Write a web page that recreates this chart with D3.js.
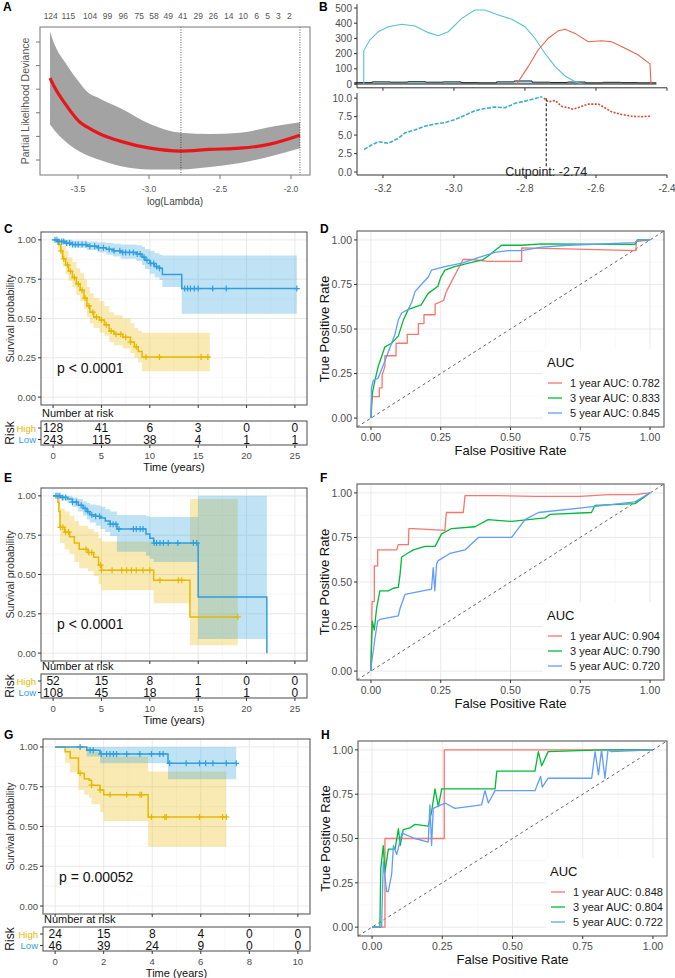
<!DOCTYPE html>
<html>
<head>
<meta charset="utf-8">
<script src="https://cdn.jsdelivr.net/npm/d3@7"></script>
<style>
  body { margin: 0; background: #fff; }
  svg { font-family: "Liberation Sans", Arial, sans-serif; }
</style>
</head>
<body>
<svg id="fig" width="675" height="978"></svg>
<script>
// ---------- panel A: cross-validation curve ----------
const cvLogLambda = [-3.697, -3.662, -3.592, -3.486, -3.437, -3.345, -3.204, -2.993, -2.775, -2.570, -2.359, -2.148, -1.937];
const cvMean  = [12.095, 12.01, 11.88, 11.72, 11.68, 11.62, 11.56, 11.50, 11.476, 11.49, 11.50, 11.535, 11.61];
const cvUpper = [12.49, 12.37, 12.23, 12.05, 11.98, 11.92, 11.84, 11.705, 11.63, 11.62, 11.63, 11.68, 11.72];
const cvLower = [11.70, 11.645, 11.56, 11.47, 11.44, 11.40, 11.35, 11.32, 11.32, 11.34, 11.375, 11.43, 11.50];
const lambdaTicks = [-3.5, -3.0, -2.5, -2.0];
const devianceTicks = [11.4, 11.6, 11.8, 12.0, 12.2, 12.4];
const dfLambda = [-3.692, -3.568, -3.415, -3.293, -3.181, -3.068, -2.965, -2.864, -2.763, -2.653, -2.547, -2.439, -2.336, -2.242, -2.164, -2.089, -2.012];
const dfCounts = [124, 115, 104, 99, 96, 75, 58, 49, 41, 29, 26, 14, 10, 6, 5, 3, 2];
const lambdaSelected = [-2.775, -1.937];

// ---------- panel B: cutpoint ----------
const densLowX = [-3.254, -3.254, -3.237, -3.213, -3.185, -3.147, -3.110, -3.072, -3.044, -3.016, -2.978, -2.941, -2.913, -2.875, -2.837, -2.800, -2.772, -2.744, -2.715, -2.687, -2.659, -2.640];
const densLowY = [0, 220, 289, 344, 377, 393, 382, 338, 318, 344, 432, 487, 487, 454, 426, 377, 301, 202, 114, 53, 15, 0];
const densHighX = [-2.823, -2.791, -2.763, -2.734, -2.706, -2.687, -2.659, -2.622, -2.584, -2.556, -2.518, -2.481, -2.448, -2.445];
const densHighY = [0, 114, 224, 301, 351, 360, 333, 278, 285, 278, 235, 191, 132, 0];
const histBreaks = [-3.28, -3.23, -3.18, -3.13, -3.08, -3.03, -2.98, -2.93, -2.88, -2.83, -2.78, -2.73, -2.68, -2.63, -2.58, -2.53, -2.48, -2.43];
const histCounts = [9, 14, 12, 15, 12, 14, 9, 8, 14, 20, 12, 10, 13, 8, 11, 9, 8];
const statLowX = [-3.253, -3.232, -3.213, -3.185, -3.157, -3.138, -3.110, -3.082, -3.054, -3.025, -2.997, -2.969, -2.941, -2.913, -2.885, -2.856, -2.828, -2.800, -2.772, -2.751];
const statLowY = [3.07, 3.65, 4.1, 3.9, 4.55, 5.3, 5.7, 6.2, 6.5, 6.7, 7.1, 7.7, 8.3, 8.6, 8.8, 8.7, 9.3, 9.6, 9.95, 10.2];
const statHighX = [-2.747, -2.734, -2.715, -2.697, -2.678, -2.664, -2.640, -2.622, -2.593, -2.575, -2.556, -2.528, -2.499, -2.471, -2.448];
const statHighY = [10.0, 9.5, 9.7, 8.9, 8.7, 8.5, 8.9, 9.2, 9.2, 8.7, 8.15, 7.8, 7.55, 7.5, 7.55];
const cutpoint = -2.74;
const bXTicks = [-3.2, -3.0, -2.8, -2.6, -2.4];
const bDensTicks = [0, 100, 200, 300, 400, 500];
const bStatTicks = [0, 2.5, 5.0, 7.5, 10.0];

// ---------- Kaplan-Meier curves: [time, surv, upper, lower] ----------
const kmC_high = [[0,1,1,1],[0.5,0.97,1,0.94],[0.8,0.93,0.99,0.89],[1.0,0.88,0.96,0.83],[1.3,0.84,0.93,0.78],[1.6,0.80,0.89,0.74],[2.0,0.76,0.86,0.70],[2.4,0.72,0.82,0.65],[2.8,0.68,0.79,0.61],[3.2,0.63,0.75,0.56],[3.5,0.58,0.70,0.51],[3.8,0.54,0.66,0.47],[4.2,0.51,0.63,0.44],[4.8,0.49,0.61,0.41],[5.3,0.46,0.58,0.39],[5.8,0.42,0.54,0.35],[6.3,0.40,0.52,0.33],[7.2,0.38,0.50,0.31],[8.0,0.35,0.47,0.28],[8.4,0.32,0.44,0.25],[8.8,0.29,0.42,0.22],[9.2,0.255,0.41,0.165],[16.2,0.255,0.41,0.165]];
const kmC_low = [[0,1,1,1],[0.5,0.99,1,0.98],[1.2,0.98,1,0.965],[2.0,0.97,0.995,0.95],[3.5,0.96,0.99,0.935],[4.6,0.95,0.985,0.92],[5.5,0.94,0.98,0.905],[6.2,0.93,0.975,0.895],[7.0,0.92,0.97,0.88],[8.6,0.91,0.965,0.865],[9.2,0.89,0.955,0.84],[9.5,0.87,0.94,0.815],[10.0,0.85,0.93,0.785],[10.5,0.83,0.915,0.76],[11.0,0.82,0.905,0.745],[11.3,0.78,0.90,0.70],[13.3,0.69,0.90,0.53],[25.2,0.69,0.90,0.53]];
const censC_high = [0.8,1.1,1.5,1.8,2.2,2.6,3.0,3.3,3.7,4.1,4.5,5.0,5.5,6.0,6.5,7.0,7.5,8.0,8.6,9.6,11.0,15.3,16.0];
const censC_low = [0.2,0.4,0.6,0.9,1.1,1.4,1.7,2.0,2.3,2.6,3.0,3.4,3.8,4.3,4.7,5.2,5.8,6.3,6.9,7.2,7.5,7.9,8.3,8.7,9.0,9.4,9.7,10.1,10.4,10.7,11.0,13.6,13.9,14.2,14.6,15.0,16.5,17.9,25.2];

const kmE_high = [[0,1,1,1],[0.5,0.96,1,0.91],[0.6,0.90,0.98,0.83],[0.72,0.80,0.92,0.70],[1.2,0.77,0.90,0.66],[1.7,0.74,0.87,0.63],[2.2,0.70,0.84,0.58],[2.7,0.66,0.81,0.54],[3.6,0.64,0.79,0.52],[4.2,0.61,0.77,0.49],[4.7,0.56,0.73,0.44],[5.0,0.527,0.71,0.40],[10.4,0.464,0.70,0.317],[14.15,0.23,0.98,0.05],[19.1,0.23,0.98,0.05]];
const kmE_low = [[0,1,1,1],[0.8,0.99,1,0.97],[1.5,0.98,1,0.955],[2.0,0.96,0.99,0.93],[2.6,0.94,0.98,0.90],[3.1,0.92,0.965,0.875],[3.5,0.90,0.955,0.85],[3.8,0.88,0.945,0.83],[4.4,0.87,0.94,0.81],[4.9,0.86,0.93,0.79],[5.4,0.84,0.915,0.77],[5.9,0.82,0.90,0.745],[6.6,0.79,0.876,0.645],[9.6,0.757,0.87,0.62],[10.0,0.73,0.866,0.60],[10.4,0.70,0.866,0.58],[15.0,0.357,1.0,0.09],[22.1,0,1.0,0.09]];
const censE_high = [0.75,1.0,1.3,1.6,3.4,3.7,4.0,4.9,5.0,6.1,7.1,7.6,8.1,8.6,9.3,10.0,11.05,12.95,13.3,19.1];
const censE_low = [0.3,0.5,0.7,1.0,1.3,2.0,2.4,2.9,3.3,3.6,4.0,4.4,4.8,5.9,6.2,6.5,6.8,8.3,8.6,9.0,9.3,10.45,10.7,11.05,11.4,11.9,12.9,14.5,14.85];

const kmG_high = [[0,1,1,1],[0.41,0.97,1,0.90],[0.62,0.93,1,0.84],[0.96,0.834,1.0,0.73],[1.2,0.80,1.0,0.70],[1.4,0.79,0.98,0.68],[1.5,0.76,0.97,0.64],[1.85,0.73,0.95,0.59],[2.0,0.70,0.94,0.535],[3.83,0.56,0.845,0.373],[7.05,0.56,0.845,0.373]];
const kmG_low = [[0,1,1,1],[1.3,0.98,1,0.94],[1.85,0.956,1,0.897],[4.65,0.897,1,0.797],[7.46,0.897,1,0.797]];
const censG_high = [1.03,1.5,1.85,2.26,2.95,3.49,3.56,3.97,4.52,4.58,5.95,6.9,7.05];
const censG_low = [1.03,1.44,1.57,1.9,2.12,2.26,2.4,2.53,2.95,3.49,3.97,4.31,4.45,4.72,5.4,5.95,6.2,6.5,7.05,7.46];

const riskTimesCE = [0, 5, 10, 15, 20, 25];
const riskTimesG = [0, 2, 4, 6, 8, 10];
const riskC_high = [128, 41, 6, 3, 0, 0];
const riskC_low = [243, 115, 38, 4, 1, 1];
const riskE_high = [52, 15, 8, 1, 0, 0];
const riskE_low = [108, 45, 18, 1, 1, 0];
const riskG_high = [24, 15, 8, 4, 0, 0];
const riskG_low = [46, 39, 24, 9, 0, 0];
const survTicks = [0, 0.25, 0.5, 0.75, 1.0];

// ---------- ROC curves: [fpr, tpr] ----------
const rocD_1y = [[0,0],[0.005,0.12],[0.03,0.12],[0.03,0.17],[0.04,0.17],[0.04,0.24],[0.05,0.29],[0.05,0.35],[0.09,0.35],[0.09,0.42],[0.13,0.42],[0.13,0.47],[0.17,0.47],[0.17,0.53],[0.19,0.53],[0.19,0.58],[0.23,0.58],[0.23,0.64],[0.26,0.66],[0.27,0.71],[0.29,0.77],[0.31,0.83],[0.33,0.89],[0.36,0.89],[0.42,0.88],[0.54,0.88],[0.54,0.955],[0.70,0.95],[0.95,0.94],[0.95,0.99],[1,1]];
const rocD_3y = [[0,0],[0.002,0.08],[0.005,0.14],[0.014,0.21],[0.026,0.29],[0.05,0.40],[0.074,0.42],[0.098,0.46],[0.116,0.55],[0.134,0.61],[0.18,0.635],[0.205,0.70],[0.24,0.74],[0.25,0.79],[0.265,0.83],[0.30,0.85],[0.35,0.87],[0.40,0.888],[0.42,0.91],[0.444,0.94],[0.468,0.97],[0.54,0.97],[0.612,0.978],[0.946,0.975],[0.955,1.0],[1,1]];
const rocD_5y = [[0,0],[0.002,0.17],[0.008,0.21],[0.026,0.225],[0.05,0.32],[0.074,0.42],[0.086,0.47],[0.098,0.55],[0.11,0.59],[0.134,0.61],[0.146,0.65],[0.158,0.71],[0.18,0.75],[0.205,0.79],[0.217,0.83],[0.265,0.85],[0.325,0.87],[0.396,0.906],[0.444,0.93],[0.492,0.94],[0.54,0.94],[0.612,0.96],[0.707,0.97],[0.946,0.985],[0.958,1.0],[1,1]];
const rocF_1y = [[0,0],[0.001,0.095],[0.004,0.39],[0.012,0.39],[0.012,0.59],[0.024,0.59],[0.024,0.68],[0.092,0.68],[0.098,0.71],[0.134,0.71],[0.136,0.80],[0.15,0.80],[0.265,0.79],[0.27,0.89],[0.331,0.89],[0.337,0.985],[0.45,0.985],[0.588,0.98],[0.75,0.98],[0.85,0.99],[0.946,0.99],[1,1]];
const rocF_3y = [[0,0],[0.0,0.04],[0.005,0.28],[0.012,0.23],[0.02,0.35],[0.032,0.45],[0.062,0.45],[0.08,0.465],[0.098,0.47],[0.104,0.54],[0.11,0.64],[0.13,0.66],[0.152,0.68],[0.194,0.70],[0.23,0.70],[0.253,0.77],[0.289,0.80],[0.373,0.81],[0.42,0.85],[0.504,0.84],[0.624,0.86],[0.642,0.88],[0.79,0.89],[0.803,0.93],[0.946,0.94],[1,1]];
const rocF_5y = [[0,0],[0.0,0.02],[0.008,0.11],[0.014,0.18],[0.024,0.28],[0.032,0.29],[0.098,0.31],[0.104,0.35],[0.122,0.43],[0.217,0.46],[0.223,0.58],[0.229,0.45],[0.235,0.60],[0.241,0.62],[0.283,0.66],[0.337,0.68],[0.385,0.75],[0.504,0.75],[0.552,0.85],[0.60,0.89],[0.78,0.92],[0.946,0.95],[1,1]];
const rocH_1y = [[0,0],[0.046,0],[0.046,0.50],[0.257,0.50],[0.257,1.0],[1,1]];
const rocH_3y = [[0,0],[0.028,0],[0.031,0.33],[0.04,0.46],[0.046,0.31],[0.058,0.44],[0.082,0.44],[0.094,0.556],[0.10,0.46],[0.111,0.55],[0.135,0.56],[0.153,0.58],[0.20,0.57],[0.212,0.65],[0.224,0.78],[0.236,0.68],[0.248,0.78],[0.438,0.78],[0.444,0.88],[0.58,0.88],[0.592,0.99],[0.604,0.91],[0.627,0.99],[0.818,1.0],[1,1]];
const rocH_5y = [[0,0],[0.034,0],[0.04,0.37],[0.052,0.20],[0.058,0.20],[0.07,0.30],[0.076,0.46],[0.088,0.41],[0.106,0.53],[0.153,0.50],[0.20,0.48],[0.206,0.69],[0.212,0.46],[0.218,0.67],[0.26,0.70],[0.295,0.67],[0.39,0.69],[0.402,0.77],[0.414,0.70],[0.438,0.77],[0.58,0.77],[0.60,0.85],[0.606,0.79],[0.627,0.84],[0.782,0.84],[0.794,0.99],[0.806,0.86],[0.817,1.0],[0.829,0.84],[0.84,1.0],[0.853,0.99],[1,1]];
const aucD = ["1 year AUC: 0.782", "3 year AUC: 0.833", "5 year AUC: 0.845"];
const aucF = ["1 year AUC: 0.904", "3 year AUC: 0.790", "5 year AUC: 0.720"];
const aucH = ["1 year AUC: 0.848", "3 year AUC: 0.804", "5 year AUC: 0.722"];
const rateTicks = [0, 0.25, 0.5, 0.75, 1.0];

const svg = d3.select("#fig");
const GRAY = "#4D4D4D";
const KM_HIGH = "#E7B800", KM_LOW = "#2E9FDF";
const ROC_COLORS = ["#F8766D", "#00BA38", "#619CFF"];

function label(g, x, y, s, size, extra) {
  const t = g.append("text").attr("x", x).attr("y", y).attr("font-size", size).text(s);
  if (extra) for (const k in extra) t.attr(k, extra[k]);
  return t;
}

function midpoints(vals) {
  const out = [];
  for (let i = 0; i < vals.length - 1; i++) out.push((vals[i] + vals[i + 1]) / 2);
  return out;
}

function grid(g, x, y, xt, yt, box) {
  const xm = midpoints(xt), ym = y ? midpoints(yt) : [];
  xm.forEach(v => g.append("line").attr("x1", x(v)).attr("x2", x(v)).attr("y1", box.t).attr("y2", box.b).attr("stroke", "#F3F3F3").attr("stroke-width", 0.6));
  ym.forEach(v => g.append("line").attr("y1", y(v)).attr("y2", y(v)).attr("x1", box.l).attr("x2", box.r).attr("stroke", "#F3F3F3").attr("stroke-width", 0.6));
  xt.forEach(v => g.append("line").attr("x1", x(v)).attr("x2", x(v)).attr("y1", box.t).attr("y2", box.b).attr("stroke", "#E6E6E6").attr("stroke-width", 0.9));
  if (y) yt.forEach(v => g.append("line").attr("y1", y(v)).attr("y2", y(v)).attr("x1", box.l).attr("x2", box.r).attr("stroke", "#E6E6E6").attr("stroke-width", 0.9));
}

// panel letters
[["A", 3, 11], ["B", 319, 11], ["C", 4, 233], ["D", 320, 233], ["E", 4, 482], ["F", 320, 482], ["G", 4, 739], ["H", 321, 739]]
  .forEach(([s, x, y]) => label(svg, x, y, s, 12, { "font-weight": "bold" }));

// ---------- panel A ----------
(function () {
  const g = svg.append("g");
  const box = { l: 40, r: 310, t: 27, b: 175 };
  const x = d3.scaleLinear().domain([-3.5, -2.0]).range([78, 291]);
  const y = d3.scaleLinear().domain([11.4, 12.4]).range([160, 42]);
  const pts = cvLogLambda.map((l, i) => ({ l, m: cvMean[i], u: cvUpper[i], lo: cvLower[i] }));
  g.append("path").datum(pts)
    .attr("d", d3.area().curve(d3.curveMonotoneX).x(d => x(d.l)).y0(d => y(d.lo)).y1(d => y(d.u)))
    .attr("fill", "#A3A3A3");
  g.append("path").datum(pts)
    .attr("d", d3.line().curve(d3.curveMonotoneX).x(d => x(d.l)).y(d => y(d.m)))
    .attr("fill", "none").attr("stroke", "#E8161B").attr("stroke-width", 3.2);
  lambdaSelected.forEach(l => g.append("line").attr("x1", x(l)).attr("x2", x(l)).attr("y1", box.t).attr("y2", box.b)
    .attr("stroke", "#333").attr("stroke-width", 0.8).attr("stroke-dasharray", "1,1.5"));
  g.append("rect").attr("x", box.l).attr("y", box.t).attr("width", box.r - box.l).attr("height", box.b - box.t)
    .attr("fill", "none").attr("stroke", "#777").attr("stroke-width", 1);
  lambdaTicks.forEach(v => {
    g.append("line").attr("x1", x(v)).attr("x2", x(v)).attr("y1", box.b).attr("y2", box.b + 4).attr("stroke", "#777");
    label(g, x(v), 192, v.toFixed(1), 8.5, { "text-anchor": "middle", fill: "#555", "font-family": "Liberation Sans Narrow, Liberation Sans, Arial" });
  });
  devianceTicks.forEach(v => g.append("line").attr("x1", box.l - 4).attr("x2", box.l).attr("y1", y(v)).attr("y2", y(v)).attr("stroke", "#777"));
  dfLambda.forEach((l, i) => label(g, x(l), 19, dfCounts[i], 8.5, { "text-anchor": "middle", fill: "#555", "font-family": "Liberation Sans Narrow, Liberation Sans, Arial" }));
  label(g, 25, (box.t + box.b) / 2, "Partial Likelihood Deviance", 10.5,
    { "text-anchor": "middle", fill: "#555", transform: `rotate(-90,25,${(box.t + box.b) / 2})`, dy: "0.35em" });
  label(g, 175, 205, "log(Lambda)", 10, { "text-anchor": "middle", fill: "#444" });
})();

// ---------- panel B ----------
(function () {
  const g = svg.append("g");
  const x = d3.scaleLinear().domain([-3.273, -2.40]).range([357, 667]);
  const yT = d3.scaleLinear().domain([-25, 525]).range([87.8, 4.2]);
  const yB = d3.scaleLinear().domain([-0.4, 10.7]).range([175, 93]);
  const blue = "#55C1D6", red = "#E8644E";

  // histogram
  histCounts.forEach((c, i) => {
    const x0 = histBreaks[i], x1 = histBreaks[i + 1];
    g.append("rect").attr("x", x(x0)).attr("y", yT(c)).attr("width", x(x1) - x(x0)).attr("height", yT(0) - yT(c))
      .attr("fill", x1 <= cutpoint + 0.02 ? "#A9DCE8" : "#BFD9E0");
  });
  const histPts = histCounts.map((c, i) => [histBreaks[i], c]).concat([[histBreaks[histBreaks.length - 1], histCounts[histCounts.length - 1]]]);
  g.append("path").datum(histPts).attr("d", d3.line().curve(d3.curveStepAfter).x(d => x(d[0])).y(d => yT(d[1])))
    .attr("fill", "none").attr("stroke", "#222").attr("stroke-width", 1);
  g.append("line").attr("x1", x(histBreaks[0])).attr("x2", x(histBreaks[histBreaks.length - 1])).attr("y1", yT(0)).attr("y2", yT(0)).attr("stroke", "#222");

  g.append("path").datum(densLowX.map((v, i) => [v, densLowY[i]])).attr("d", d3.line().x(d => x(d[0])).y(d => yT(d[1])))
    .attr("fill", "none").attr("stroke", blue).attr("stroke-width", 1.1);
  g.append("path").datum(densHighX.map((v, i) => [v, densHighY[i]])).attr("d", d3.line().x(d => x(d[0])).y(d => yT(d[1])))
    .attr("fill", "none").attr("stroke", red).attr("stroke-width", 1.1);

  // axes top
  g.append("line").attr("x1", 357).attr("x2", 357).attr("y1", 4.2).attr("y2", 87.8).attr("stroke", "#333");
  g.append("line").attr("x1", 357).attr("x2", 667).attr("y1", 87.8).attr("y2", 87.8).attr("stroke", "#333");
  bDensTicks.forEach(v => {
    g.append("line").attr("x1", 354).attr("x2", 357).attr("y1", yT(v)).attr("y2", yT(v)).attr("stroke", "#333");
    label(g, 352, yT(v) + 3.5, v, 10, { "text-anchor": "end", fill: GRAY });
  });
  bXTicks.forEach(v => g.append("line").attr("x1", x(v)).attr("x2", x(v)).attr("y1", 87.8).attr("y2", 90.8).attr("stroke", "#333"));

  // bottom: standardized statistic
  g.append("path").datum(statLowX.map((v, i) => [v, statLowY[i]])).attr("d", d3.line().x(d => x(d[0])).y(d => yB(d[1])))
    .attr("fill", "none").attr("stroke", "#3AAFC9").attr("stroke-width", 1.6).attr("stroke-dasharray", "4,1.5");
  g.append("path").datum(statHighX.map((v, i) => [v, statHighY[i]])).attr("d", d3.line().x(d => x(d[0])).y(d => yB(d[1])))
    .attr("fill", "none").attr("stroke", "#DA4B30").attr("stroke-width", 1.6).attr("stroke-dasharray", "2,1.5");
  g.append("line").attr("x1", x(cutpoint)).attr("x2", x(cutpoint)).attr("y1", yB(10)).attr("y2", yB(0.8))
    .attr("stroke", "#222").attr("stroke-width", 1.1).attr("stroke-dasharray", "3,2");
  label(g, x(cutpoint), 176, "Cutpoint: " + cutpoint.toFixed(2), 12.5, { "text-anchor": "middle", fill: "#222" });

  g.append("line").attr("x1", 357).attr("x2", 357).attr("y1", 93).attr("y2", 175).attr("stroke", "#333");
  g.append("line").attr("x1", 357).attr("x2", 667).attr("y1", 175).attr("y2", 175).attr("stroke", "#333");
  bStatTicks.forEach(v => {
    g.append("line").attr("x1", 354).attr("x2", 357).attr("y1", yB(v)).attr("y2", yB(v)).attr("stroke", "#333");
    label(g, 352, yB(v) + 3.5, v.toFixed(1), 10, { "text-anchor": "end", fill: GRAY });
  });
  bXTicks.forEach(v => {
    g.append("line").attr("x1", x(v)).attr("x2", x(v)).attr("y1", 175).attr("y2", 178).attr("stroke", "#333");
    label(g, x(v), 191.5, v.toFixed(1), 10, { "text-anchor": "middle", fill: GRAY });
  });
})();

// ---------- KM panels ----------
function survAt(steps, t) {
  let s = steps[0][1];
  steps.forEach(st => { if (st[0] <= t) s = st[1]; });
  return s;
}

function kmPanel(p) {
  const g = svg.append("g");
  const box = p.box;
  const x = d3.scaleLinear().domain(p.xDomain).range([box.l, box.r]);
  const y = d3.scaleLinear().domain([-0.05, 1.05]).range([box.b, box.t]);
  grid(g, x, y, p.xTicks, survTicks, box);

  const groups = [{ steps: p.high, cens: p.censHigh, col: KM_HIGH }, { steps: p.low, cens: p.censLow, col: KM_LOW }];
  groups.forEach(gr => {
    g.append("path").datum(gr.steps)
      .attr("d", d3.area().curve(d3.curveStepAfter).x(d => x(d[0])).y0(d => y(d[3])).y1(d => y(d[2])))
      .attr("fill", gr.col).attr("fill-opacity", 0.3);
  });
  groups.forEach(gr => {
    g.append("path").datum(gr.steps)
      .attr("d", d3.line().curve(d3.curveStepAfter).x(d => x(d[0])).y(d => y(d[1])))
      .attr("fill", "none").attr("stroke", gr.col).attr("stroke-width", 1.5);
    gr.cens.forEach(t => {
      const cx = x(t), cy = y(survAt(gr.steps, t));
      g.append("path").attr("d", `M${cx - 3},${cy}H${cx + 3}M${cx},${cy - 3}V${cy + 3}`)
        .attr("stroke", gr.col).attr("stroke-width", 1.2);
    });
  });
  g.append("rect").attr("x", box.l).attr("y", box.t).attr("width", box.r - box.l).attr("height", box.b - box.t)
    .attr("fill", "none").attr("stroke", "#5A5A5A").attr("stroke-width", 1.1);
  survTicks.forEach(v => {
    g.append("line").attr("x1", box.l - 3).attr("x2", box.l).attr("y1", y(v)).attr("y2", y(v)).attr("stroke", "#333");
    label(g, box.l - 5, y(v) + 3.5, v.toFixed(2), 9.5, { "text-anchor": "end", fill: GRAY });
  });
  p.xTicks.forEach(v => g.append("line").attr("x1", x(v)).attr("x2", x(v)).attr("y1", box.b).attr("y2", box.b + 3).attr("stroke", "#333"));
  const my = (box.t + box.b) / 2;
  label(g, 10, my, "Survival probability", 10.5, { "text-anchor": "middle", fill: "#333", dy: "0.35em", transform: `rotate(-90,10,${my})` });
  label(g, box.l + 16, y(0) - 24, p.pText, 14, { fill: "#111" });

  // risk table
  const tb = { l: box.l, r: box.r, t: p.tableTop, b: p.tableTop + 24 };
  grid(g, x, null, p.xTicks, null, tb);
  g.append("rect").attr("x", tb.l).attr("y", tb.t).attr("width", tb.r - tb.l).attr("height", tb.b - tb.t)
    .attr("fill", "none").attr("stroke", "#5A5A5A").attr("stroke-width", 1.1);
  label(g, tb.l + 1, tb.t - 4, "Number at risk", 11, { fill: "#111" });
  const rows = [{ vals: p.riskHigh, name: "High", col: KM_HIGH, cy: tb.t + 7 }, { vals: p.riskLow, name: "Low", col: KM_LOW, cy: tb.t + 18.5 }];
  rows.forEach(r => {
    r.vals.forEach((v, i) => label(g, x(p.xTicks[i]), r.cy + 4.3, v, 12, { "text-anchor": "middle", fill: "#111" }));
    g.append("line").attr("x1", tb.l - 3).attr("x2", tb.l).attr("y1", r.cy).attr("y2", r.cy).attr("stroke", "#333");
    label(g, tb.l - 5, r.cy + 3.5, r.name, 9.5, { "text-anchor": "end", fill: r.col });
  });
  const ty = (tb.t + tb.b) / 2;
  label(g, 10, ty, "Risk", 12, { "text-anchor": "middle", fill: "#111", dy: "0.35em", transform: `rotate(-90,10,${ty})` });
  p.xTicks.forEach(v => {
    g.append("line").attr("x1", x(v)).attr("x2", x(v)).attr("y1", tb.b).attr("y2", tb.b + 3).attr("stroke", "#333");
    label(g, x(v), tb.b + 14, v, 9.5, { "text-anchor": "middle", fill: GRAY });
  });
  label(g, (box.l + box.r) / 2, tb.b + 25.5, "Time (years)", 11, { "text-anchor": "middle", fill: "#111" });
}

kmPanel({ box: { l: 41, r: 307, t: 232, b: 405 }, xDomain: [-1.25, 26.25], xTicks: riskTimesCE,
  high: kmC_high, low: kmC_low, censHigh: censC_high, censLow: censC_low, pText: "p < 0.0001",
  tableTop: 421, riskHigh: riskC_high, riskLow: riskC_low });
kmPanel({ box: { l: 41, r: 307, t: 488, b: 661 }, xDomain: [-1.25, 26.25], xTicks: riskTimesCE,
  high: kmE_high, low: kmE_low, censHigh: censE_high, censLow: censE_low, pText: "p < 0.0001",
  tableTop: 674, riskHigh: riskE_high, riskLow: riskE_low });
kmPanel({ box: { l: 43, r: 310, t: 739, b: 914 }, xDomain: [-0.5, 10.5], xTicks: riskTimesG,
  high: kmG_high, low: kmG_low, censHigh: censG_high, censLow: censG_low, pText: "p = 0.00052",
  tableTop: 927, riskHigh: riskG_high, riskLow: riskG_low });

// ---------- ROC panels ----------
function rocPanel(p) {
  const g = svg.append("g");
  const box = p.box;
  const x = d3.scaleLinear().domain([-0.05, 1.05]).range([box.l, box.r]);
  const y = d3.scaleLinear().domain([-0.05, 1.05]).range([box.b, box.t]);
  grid(g, x, y, rateTicks, rateTicks, box);
  const lg = { l: box.r - 121, t: box.b - 78 };
  g.append("rect").attr("x", lg.l).attr("y", lg.t).attr("width", box.r - lg.l).attr("height", box.b - lg.t).attr("fill", "#fff");
  g.append("line").attr("x1", x(-0.05)).attr("y1", y(-0.05)).attr("x2", x(1.05)).attr("y2", y(1.05))
    .attr("stroke", "#555").attr("stroke-width", 0.9).attr("stroke-dasharray", "3,3");
  p.curves.forEach((c, i) => {
    g.append("path").datum(c).attr("d", d3.line().x(d => x(d[0])).y(d => y(d[1])))
      .attr("fill", "none").attr("stroke", ROC_COLORS[i]).attr("stroke-width", 1.3).attr("stroke-linejoin", "round");
  });
  g.append("rect").attr("x", box.l).attr("y", box.t).attr("width", box.r - box.l).attr("height", box.b - box.t)
    .attr("fill", "none").attr("stroke", "#5A5A5A").attr("stroke-width", 1.1);
  rateTicks.forEach(v => {
    g.append("line").attr("x1", box.l - 3).attr("x2", box.l).attr("y1", y(v)).attr("y2", y(v)).attr("stroke", "#333");
    label(g, box.l - 5, y(v) + 3.8, v.toFixed(2), 10.5, { "text-anchor": "end", fill: GRAY });
    g.append("line").attr("x1", x(v)).attr("x2", x(v)).attr("y1", box.b).attr("y2", box.b + 3).attr("stroke", "#333");
    label(g, x(v), box.b + 14, v.toFixed(2), 10.5, { "text-anchor": "middle", fill: GRAY });
  });
  label(g, (box.l + box.r) / 2, box.b + 28, "False Positive Rate", 13, { "text-anchor": "middle", fill: "#111" });
  const my = (box.t + box.b) / 2, tx = box.l - 33;
  label(g, tx, my, "True Positive Rate", 13, { "text-anchor": "middle", fill: "#111", dy: "0.35em", transform: `rotate(-90,${tx},${my})` });
  label(g, lg.l + 4, box.b - 60, "AUC", 13, { fill: "#111" });
  p.auc.forEach((s, i) => {
    const cy = box.b - 44 + i * 15;
    g.append("line").attr("x1", lg.l + 5).attr("x2", lg.l + 19).attr("y1", cy).attr("y2", cy).attr("stroke", ROC_COLORS[i]).attr("stroke-width", 1.3);
    label(g, lg.l + 27, cy + 4, s, 11, { fill: "#1a1a1a" });
  });
}

rocPanel({ box: { l: 357, r: 664, t: 231, b: 427 }, curves: [rocD_1y, rocD_3y, rocD_5y], auc: aucD });
rocPanel({ box: { l: 357, r: 664, t: 484, b: 680 }, curves: [rocF_1y, rocF_3y, rocF_5y], auc: aucF });
rocPanel({ box: { l: 358, r: 667, t: 741, b: 936 }, curves: [rocH_1y, rocH_3y, rocH_5y], auc: aucH });
</script>
</body>
</html>
